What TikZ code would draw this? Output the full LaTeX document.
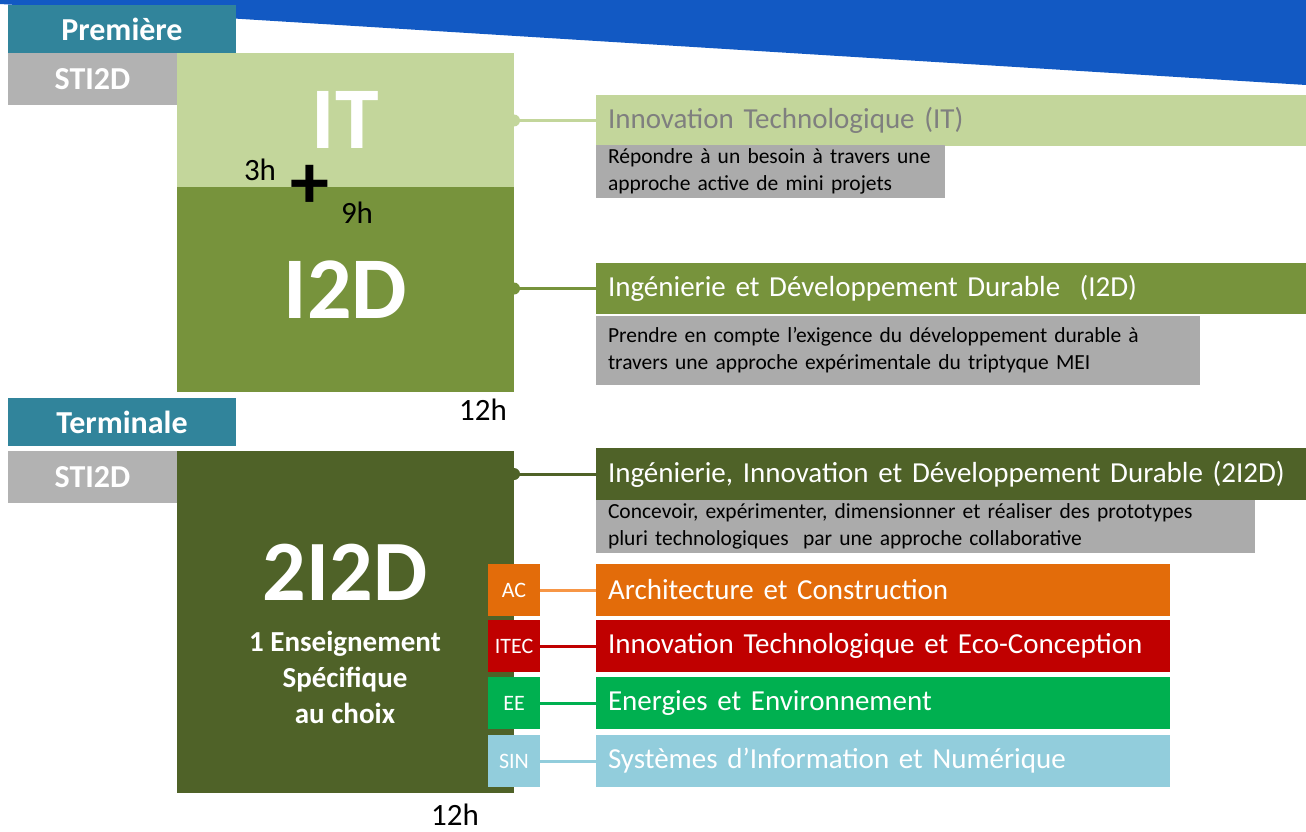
\documentclass[tikz,border=0pt]{standalone}
\usepackage{fontspec}
\setmainfont{Carlito}
\usetikzlibrary{positioning,calc}
\definecolor{bandColor}{HTML}{1259C3}
\definecolor{headColor}{HTML}{31849B}
\definecolor{stiColor}{HTML}{B2B2B2}
\definecolor{descColor}{HTML}{ABABAB}
\definecolor{itColor}{HTML}{C3D69B}
\definecolor{itText}{HTML}{7F7F7F}
\definecolor{idColor}{HTML}{77933C}
\definecolor{iidColor}{HTML}{4F6228}
\definecolor{acColor}{HTML}{E36C0A}
\definecolor{acLine}{HTML}{F79646}
\definecolor{itecColor}{HTML}{C00000}
\definecolor{eeColor}{HTML}{00B050}
\definecolor{sinColor}{HTML}{92CDDC}
\tikzset{
	block/.style={inner sep=0, outer sep=0, anchor=north west},
	headbox/.style={block, fill=headColor, text=white, minimum width=228, minimum height=48,
			font=\fontsize{32}{32}\selectfont\bfseries},
	stibox/.style={block, fill=stiColor, text=white, minimum width=169, minimum height=52,
			font=\fontsize{32}{32}\selectfont\bfseries},
	bigbox/.style={block, text=white, minimum width=337, font=\fontsize{88}{88}\selectfont\bfseries},
	titlebox/.style={block, text=white, minimum height=51, text width=686, inner xsep=12,
			align=left, font=\fontsize{29}{31}\selectfont},
	descbox/.style={block, fill=descColor, inner xsep=12, align=left,
			font=\fontsize{21.5}{27}\selectfont},
	optbox/.style={block, text=white, minimum width=52, minimum height=52,
			font=\fontsize{22}{22}\selectfont},
	opttitle/.style={block, text=white, minimum height=52, text width=550, inner xsep=12,
			align=left, font=\fontsize{29}{31}\selectfont},
	hours/.style={inner sep=0, font=\fontsize{31}{31}\selectfont},
	link/.style={line width=3pt}
}

\begin{document}
\begin{tikzpicture}[x=1pt,y=-1pt]
	\useasboundingbox (0,0) rectangle (1306,832);
	\fill[bandColor] (0,0) -- (1306,0) -- (1306,85) -- (0,4) -- cycle;
	% Premiere
	\node[headbox] (prem) at (8,5) {Première};
	\node[stibox] (sti1) at (8,53) {STI2D};
	\node[bigbox, fill=itColor, minimum height=134] (it) at (177,53) {IT};
	\node[bigbox, fill=idColor, minimum height=205] (id) at (177,187) {I2D};
	\node[hours] (h3) at (260,170) {3h};
	\node[inner sep=0, font=\fontsize{78}{78}\selectfont\bfseries] (plus) at (310,187) {+};
	\node[hours] (h9) at (357,213) {9h};
	\node[hours] (h12a) at (483,410) {12h};
	\node[titlebox, fill=itColor, text=itText] (ittitle) at (596,95) {Innovation Technologique (IT)};
	\node[descbox, text width=325, minimum height=53] (itdesc) at (596,145)
		{Répondre à un besoin à travers une\\approche active de mini projets};
	\node[titlebox, fill=idColor] (idtitle) at (596,263) {Ingénierie et Développement Durable~~(I2D)};
	\node[descbox, text width=580, minimum height=69] (iddesc) at (596,316)
		{Prendre en compte l’exigence du développement durable à\\travers une approche expérimentale du triptyque MEI};
	\draw[link, itColor] (it.east |- ittitle.west) -- (ittitle.west);
	\fill[itColor] (it.east |- ittitle.west) circle (6);
	\draw[link, idColor] (id.east |- idtitle.west) -- (idtitle.west);
	\fill[idColor] (id.east |- idtitle.west) circle (6);
	% Terminale
	\node[headbox] (term) at (8,398) {Terminale};
	\node[stibox] (sti2) at (8,451) {STI2D};
	\node[bigbox, fill=iidColor, minimum height=342] (iid) at (177,451) {};
	\node[inner sep=0, text=white, font=\fontsize{86}{86}\selectfont\bfseries] (iidname) at (345,572) {2I2D};
	\node[inner sep=0, text=white, align=center, font=\fontsize{29}{36}\selectfont\bfseries] (choix) at (345,677)
		{1 Enseignement\\Spécifique\\au choix};
	\node[hours] (h12b) at (455,815) {12h};
	\node[titlebox, fill=iidColor, minimum height=52] (iidtitle) at (596,448)
		{Ingénierie, Innovation et Développement Durable (2I2D)};
	\node[descbox, text width=635, minimum height=53] (iiddesc) at (596,500)
		{Concevoir, expérimenter, dimensionner et réaliser des prototypes\\pluri technologiques~~par une approche collaborative};
	\draw[link, iidColor] (iid.east |- iidtitle.west) -- (iidtitle.west);
	\fill[iidColor] (iid.east |- iidtitle.west) circle (6);
	% enseignements specifiques
	\node[optbox, fill=acColor] (ac) at (488,564) {AC};
	\node[optbox, fill=itecColor] (itec) at (488,620) {ITEC};
	\node[optbox, fill=eeColor] (ee) at (488,677) {EE};
	\node[optbox, fill=sinColor] (sin) at (488,735) {SIN};
	\node[opttitle, fill=acColor] (actitle) at (596,564) {Architecture et Construction};
	\node[opttitle, fill=itecColor] (itectitle) at (596,620) {Innovation Technologique et Eco-Conception};
	\node[opttitle, fill=eeColor] (eetitle) at (596,677) {Energies et Environnement};
	\node[opttitle, fill=sinColor] (sintitle) at (596,735) {Systèmes d’Information et Numérique};
	\draw[link, acLine] (ac.east) -- (actitle.west);
	\draw[link, itecColor] (itec.east) -- (itectitle.west);
	\draw[link, eeColor] (ee.east) -- (eetitle.west);
	\draw[link, sinColor] (sin.east) -- (sintitle.west);
\end{tikzpicture}
\end{document}
